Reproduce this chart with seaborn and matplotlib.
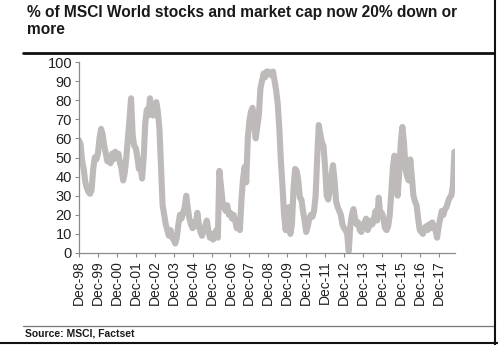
import numpy as np
import pandas as pd
import matplotlib
matplotlib.use("Agg")
import matplotlib.pyplot as plt
from matplotlib.lines import Line2D
import seaborn as sns

# Monthly values, starting Dec-1998
start_year = 1998 + 11 / 12.0
values = [
    59,
    57, 48, 44, 37, 34, 32, 31, 33, 44, 50, 49, 52,        # 1999
    60, 65, 62, 56, 52, 48, 50, 47, 52, 49, 53, 50,        # 2000
    52, 47, 44, 38, 42, 50, 60, 70, 81, 62, 56, 55,        # 2001
    50, 44, 45, 39, 50, 68, 75, 72, 81, 74, 72, 76,        # 2002
    79, 74, 65, 45, 25, 20, 15, 12, 9, 12, 8, 7,           # 2003
    5, 8, 15, 20, 18, 21, 24, 30, 23, 18, 15, 13,          # 2004
    16, 14, 21, 15, 11, 9, 12, 14, 17, 12, 8, 10,          # 2005
    7, 9, 12, 8, 43, 35, 27, 24, 22, 25, 20, 21,           # 2006
    18, 20, 17, 13, 14, 12, 28, 39, 45, 37, 60, 69,        # 2007
    74, 76, 68, 60, 66, 72, 86, 90, 94, 92, 95, 95,        # 2008
    94, 93, 95, 90, 85, 78, 65, 48, 35, 20, 12, 18,        # 2009
    24, 10, 15, 34, 44, 43, 38, 29, 28, 22, 17, 11,        # 2010
    14, 18, 20, 19, 22, 30, 50, 67, 62, 58, 56, 45,        # 2011
    30, 28, 33, 40, 46, 38, 27, 24, 22, 20, 15, 13,        # 2012
    12, 10, 1, 14, 20, 23, 18, 15, 16, 12, 11, 14,         # 2013
    16, 18, 12, 14, 17, 15, 18, 22, 17, 29, 20, 21,        # 2014
    18, 13, 12, 14, 20, 32, 45, 51, 48, 30, 42, 58,        # 2015
    66, 58, 44, 40, 38, 49, 40, 30, 27, 25, 18, 12,        # 2016
    11, 10, 13, 14, 12, 15, 13, 16, 13, 12, 8, 14,         # 2017
    18, 22, 20, 23, 24, 27, 29, 30, 35, 53,                # 2018
]
tick_years = list(range(1998, 2018))
tick_labels = [f"Dec-{y % 100:02d}" for y in tick_years]
y_ticks = list(range(0, 101, 10))

title = "% of MSCI World stocks and market cap now 20% down or\nmore"
source = "Source: MSCI, Factset"

t = start_year + np.arange(len(values)) / 12.0
df = pd.DataFrame({"t": t, "v": values})

sns.set_style("white")
plt.rcParams["font.family"] = ["Liberation Sans", "DejaVu Sans"]

W, H = 498, 345
fig = plt.figure(figsize=(W / 100, H / 100), dpi=100)
ax = fig.add_axes([79 / W, 1 - 253 / H, (455 - 79) / W, (253 - 62) / H])

sns.lineplot(data=df, x="t", y="v", ax=ax, color="#bfbaba", linewidth=4.4,
             solid_joinstyle="round", solid_capstyle="round")

ax.set_xlim(start_year, t[-1] + 0.03)
ax.set_ylim(0, 100)
ax.set_yticks(y_ticks)
ax.set_yticklabels([str(v) for v in y_ticks], fontsize=10.5, color="#222222")
xt = [y + 11 / 12.0 for y in tick_years]
ax.set_xticks(xt)
ax.set_xticklabels(tick_labels, rotation=90, fontsize=10, color="#222222")
ax.set_xlabel("")
ax.set_ylabel("")
for s in ["top", "right"]:
    ax.spines[s].set_visible(False)
for s in ["left", "bottom"]:
    ax.spines[s].set_color("#8a8a8a")
    ax.spines[s].set_linewidth(0.9)
ax.tick_params(axis="both", which="both", direction="out", length=3,
               width=0.8, color="#8a8a8a", pad=2, bottom=True, left=True)

fig.text(27 / W, 1 - 5 / H, title, ha="left", va="top", fontsize=11.2,
         fontweight="bold", color="#1a1a1a", linespacing=1.2)
fig.text(25 / W, 1 - 334 / H, source, ha="left", va="center", fontsize=7.5,
         fontweight="bold", color="#1a1a1a")

# decorative rules and frame
fig.add_artist(Line2D([23 / W, 494 / W], [1 - 53 / H, 1 - 53 / H],
                      transform=fig.transFigure, color="#111111", lw=2.0))
fig.add_artist(Line2D([23 / W, 495 / W], [1 - 326 / H, 1 - 326 / H],
                      transform=fig.transFigure, color="#777777", lw=0.9))
fig.add_artist(Line2D([495 / W, 495 / W], [0, 1],
                      transform=fig.transFigure, color="#111111", lw=1.5))
fig.add_artist(Line2D([0, 1], [1 - 343 / H, 1 - 343 / H],
                      transform=fig.transFigure, color="#111111", lw=1.5))

fig.savefig("out.png", dpi=100)
